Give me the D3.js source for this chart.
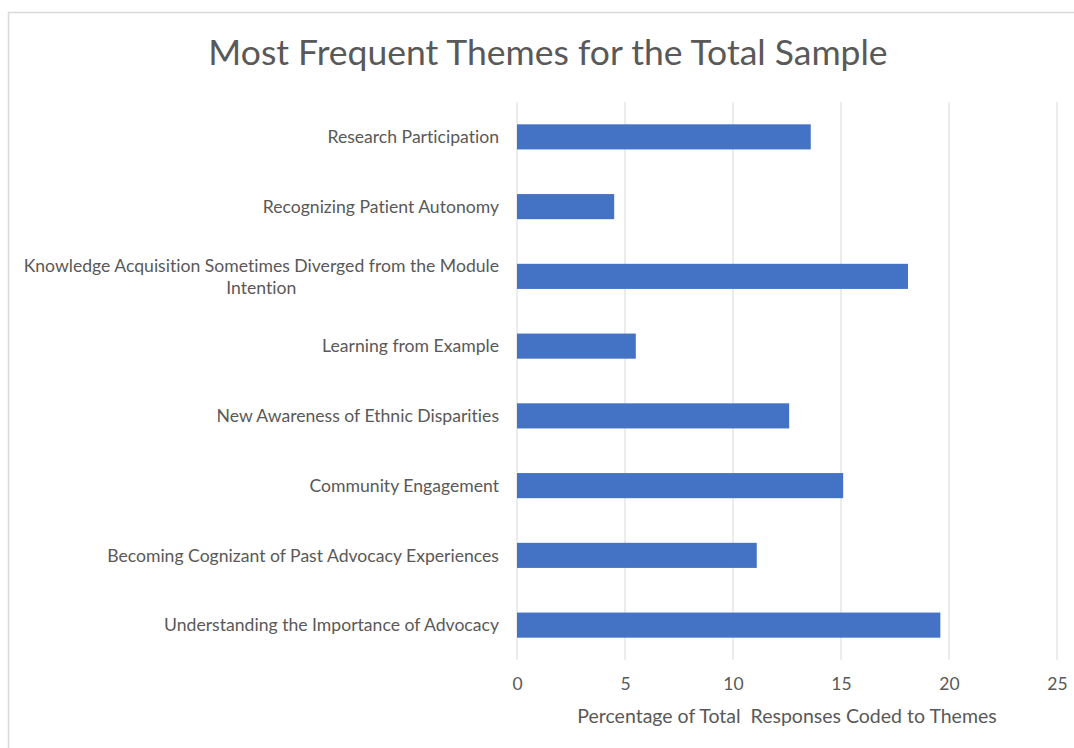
<!DOCTYPE html>
<html><head><meta charset="utf-8">
<script src="https://cdn.jsdelivr.net/npm/d3@7"></script>
<style>body{margin:0;background:#fff;} text{font-family:Lato,"Open Sans",sans-serif;fill:#595959;font-variant-ligatures:none;white-space:pre;}</style>
</head><body>
<svg id="c" width="1074" height="748"></svg>
<script>
const categories = [
  "Research Participation",
  "Recognizing Patient Autonomy",
  "Knowledge Acquisition Sometimes Diverged from the Module Intention",
  "Learning from Example",
  "New Awareness of Ethnic Disparities",
  "Community Engagement",
  "Becoming Cognizant of Past Advocacy Experiences",
  "Understanding the Importance of Advocacy"
];
const values = [13.6, 4.5, 18.1, 5.5, 12.6, 15.1, 11.1, 19.6];
const xTicks = [0, 5, 10, 15, 20, 25];
const title = "Most Frequent Themes for the Total Sample";
const xTitle = "Percentage of Total  Responses Coded to Themes";

const svg = d3.select("#c");
svg.append("rect").attr("x",8.5).attr("y",12.5).attr("width",1080).attr("height",760)
  .attr("fill","#fff").attr("stroke","#d9d9d9").attr("stroke-width",1.5);

const m = {left:517, right:1057, top:102, bottom:660};
const x = d3.scaleLinear().domain([0,25]).range([m.left,m.right]);
const y = d3.scaleBand().domain(categories).range([m.top,m.bottom]).paddingInner(0.64).paddingOuter(0.32);

// gridlines
svg.append("g").selectAll("line").data(xTicks).join("line")
  .attr("x1",d=>x(d)).attr("x2",d=>x(d)).attr("y1",m.top).attr("y2",m.bottom)
  .attr("stroke","#d9d9d9").attr("stroke-width",1);

// bars
svg.append("g").selectAll("rect").data(values).join("rect")
  .attr("x",x(0)).attr("y",(d,i)=>y(categories[i]))
  .attr("width",d=>x(d)-x(0)).attr("height",y.bandwidth())
  .attr("fill","#4472c4");

// x axis labels
const xa = svg.append("g").attr("transform",`translate(0,${m.bottom})`)
  .call(d3.axisBottom(x).tickValues(xTicks).tickSize(0).tickPadding(18));
xa.select(".domain").remove();
xa.selectAll("text").attr("font-size",17.5).attr("font-family","Lato,sans-serif").attr("fill","#595959");

// category labels
const fs = 17.6;
const wrapMap = {"Knowledge Acquisition Sometimes Diverged from the Module Intention":["Knowledge Acquisition Sometimes Diverged from the Module","Intention"]};
const lab = svg.append("g");
categories.forEach(c=>{
  const cy = y(c)+y.bandwidth()/2;
  const lines = wrapMap[c] || [c];
  if(lines.length===1){
    lab.append("text").attr("x",m.left-18).attr("y",cy).attr("dy","0.35em")
      .attr("text-anchor","end").attr("font-size",fs).text(c);
  } else {
    const t1 = lab.append("text").attr("x",m.left-18).attr("y",cy-11).attr("dy","0.35em")
      .attr("text-anchor","end").attr("font-size",fs).text(lines[0]);
    const w = t1.node().getComputedTextLength();
    const center = m.left-18 - w/2;
    lab.append("text").attr("x",center).attr("y",cy+11).attr("dy","0.35em")
      .attr("text-anchor","middle").attr("font-size",fs).text(lines[1]);
  }
});

svg.append("text").attr("x",548).attr("y",53).attr("dy","0.35em").attr("text-anchor","middle")
  .attr("font-size",35.5).text(title);
svg.append("text").attr("x",787).attr("y",716).attr("dy","0.35em").attr("text-anchor","middle")
  .attr("font-size",19.5).text(xTitle);
</script>
</body></html>
